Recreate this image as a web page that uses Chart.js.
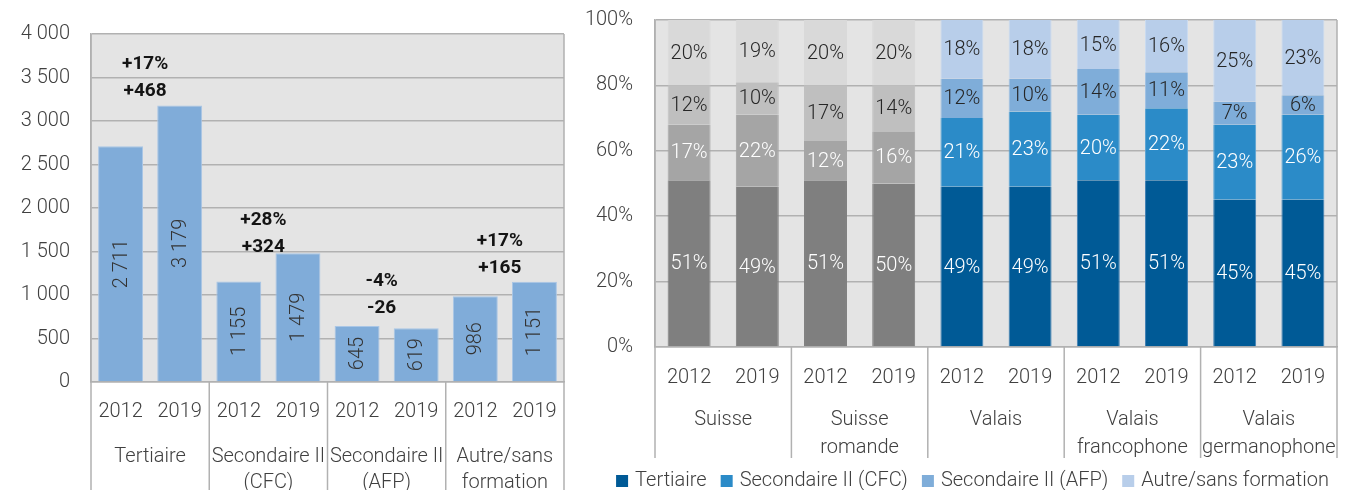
<!DOCTYPE html>
<html><head><meta charset="utf-8">
<script src="https://cdn.jsdelivr.net/npm/chart.js@4.4.0/dist/chart.umd.min.js"></script>
<style>
html,body{margin:0;padding:0;background:#fff;overflow:hidden;}
.box{position:absolute;top:0;height:490px;}
</style></head><body>
<div class="box" style="left:0;width:580px"><canvas id="c1"></canvas></div>
<div class="box" style="left:580px;width:769px"><canvas id="c2"></canvas></div>
<script>
// ---------- DATA ----------
const years = ['2012', '2019'];
const leftGroups = [['Tertiaire'], ['Secondaire II', '(CFC)'], ['Secondaire II', '(AFP)'], ['Autre/sans', 'formation']];
const left2012 = [2711, 1155, 645, 986];
const left2019 = [3179, 1479, 619, 1151];
const leftYMax = 4000;
const leftYStep = 500;

const rightGroups = [['Suisse'], ['Suisse', 'romande'], ['Valais'], ['Valais', 'francophone'], ['Valais', 'germanophone']];
const seriesNames = ['Tertiaire', 'Secondaire II (CFC)', 'Secondaire II (AFP)', 'Autre/sans formation'];
const tertiaire = [51, 49, 51, 50, 49, 49, 51, 51, 45, 45];
const cfc       = [17, 22, 12, 16, 21, 23, 20, 22, 23, 26];
const afp       = [12, 10, 17, 14, 12, 10, 14, 11,  7,  6];
const autre     = [20, 19, 20, 20, 18, 18, 15, 16, 25, 23];

// ---------- STYLE ----------
const FONT = 'Roboto';
const FS = 20;
const TXT = '#404040';
const GRID = '#b1b1b1';
const greys = ['#7f7f7f', '#a5a5a5', '#bfbfbf', '#d9d9d9'];
const blues = ['#005a96', '#2b8bc8', '#7fadd9', '#b8ceea'];
const blueEdges = ['#3f7fb3', '#5aa3d3', '#9fc1e3', '#c9dbf0'];
const segText = ['#ffffff', '#ffffff', '#262626', '#262626'];
const greyBars = 4;

const fmt = n => String(n).replace(/\B(?=(\d{3})+(?!\d))/g, ' ');

Chart.defaults.font.family = FONT;
Chart.defaults.font.weight = 300;
Chart.defaults.animation = false;

const bgPlugin = {
  id: 'bg',
  beforeDraw(chart) {
    const {ctx, chartArea: a} = chart;
    ctx.save();
    ctx.fillStyle = '#e4e4e4';
    ctx.fillRect(a.left, a.top, a.right - a.left, a.bottom - a.top);
    ctx.restore();
  }
};

function groupPlugin(groups, perGroup, sepBottom, firstY, lineH) {
  return {
    id: 'groups',
    afterDraw(chart) {
      const {ctx, chartArea: a, scales: {x}} = chart;
      ctx.save();
      ctx.strokeStyle = GRID;
      ctx.lineWidth = 1.5;
      const n = groups.length;
      for (let g = 0; g <= n; g++) {
        let px, top = a.bottom;
        if (g === 0) { px = a.left; top = a.top; }
        else if (g === n) { px = a.right; top = a.top; }
        else px = (x.getPixelForValue(g * perGroup - 1) + x.getPixelForValue(g * perGroup)) / 2;
        ctx.beginPath(); ctx.moveTo(px, top); ctx.lineTo(px, sepBottom); ctx.stroke();
      }
      ctx.fillStyle = TXT;
      ctx.font = `300 ${FS}px ${FONT}`;
      ctx.textAlign = 'center';
      ctx.textBaseline = 'middle';
      groups.forEach((lines, g) => {
        const cx = (x.getPixelForValue(g * perGroup) + x.getPixelForValue(g * perGroup + perGroup - 1)) / 2;
        lines.forEach((t, i) => ctx.fillText(t, cx, firstY + i * lineH));
      });
      ctx.restore();
    }
  };
}

// ---------- LEFT CHART ----------
const leftLabels = [], leftValues = [];
leftGroups.forEach((g, i) => {
  leftLabels.push(years[0], years[1]);
  leftValues.push(left2012[i], left2019[i]);
});

const leftLabelPlugin = {
  id: 'leftLabels',
  afterDatasetsDraw(chart) {
    const {ctx, scales: {x, y}} = chart;
    const meta = chart.getDatasetMeta(0);
    ctx.save();
    ctx.fillStyle = '#333';
    ctx.font = `300 ${FS}px ${FONT}`;
    ctx.textAlign = 'center';
    ctx.textBaseline = 'middle';
    meta.data.forEach((bar, i) => {
      const cy = (bar.y + bar.base) / 2;
      ctx.save();
      ctx.translate(bar.x, cy);
      ctx.rotate(-Math.PI / 2);
      ctx.fillText(fmt(leftValues[i]), 0, 1);
      ctx.restore();
    });
    // change annotations
    const offs = [14, 6, 18, 14];
    ctx.fillStyle = '#141414';
    ctx.font = `bold 19px ${FONT}`;
    leftGroups.forEach((g, i) => {
      const a = left2012[i], b = left2019[i];
      const d = b - a;
      const pct = Math.round(d / a * 100);
      const sign = v => (v > 0 ? '+' : '') + v;
      const cx = (x.getPixelForValue(2 * i) + x.getPixelForValue(2 * i + 1)) / 2 - 5;
      const top = y.getPixelForValue(Math.max(a, b)) - offs[i];
      ctx.fillText(sign(d), cx, top);
      ctx.fillText(sign(pct) + '%', cx, top - 27);
    });
    ctx.restore();
  }
};

new Chart(document.getElementById('c1'), {
  type: 'bar',
  data: {
    labels: leftLabels,
    datasets: [{
      data: leftValues,
      backgroundColor: '#80acd9',
      borderColor: '#a9c6e6',
      borderWidth: {top: 1, left: 1, right: 1, bottom: 0},
      borderSkipped: 'bottom',
      barPercentage: 0.76,
      categoryPercentage: 1
    }]
  },
  options: {
    responsive: true,
    maintainAspectRatio: false,
    layout: {padding: {top: 34, right: 16, bottom: 0, left: 0}},
    plugins: {legend: {display: false}, tooltip: {enabled: false}},
    scales: {
      x: {
        grid: {display: false, drawTicks: false},
        border: {display: true, color: GRID, width: 1.5},
        ticks: {color: TXT, font: {size: FS, weight: 300}, padding: 18, maxRotation: 0, autoSkip: false},
        afterFit: s => { s.height = 108; }
      },
      y: {
        min: 0, max: leftYMax,
        grid: {color: GRID, lineWidth: 1.5, drawTicks: false},
        border: {display: true, color: GRID, width: 1.5},
        ticks: {stepSize: leftYStep, color: TXT, font: {size: FS, weight: 300}, padding: 21, callback: v => fmt(v)},
        afterFit: s => { s.width = 91; s.paddingTop = 10; s.paddingBottom = 10; }
      }
    }
  },
  plugins: [bgPlugin, leftLabelPlugin, groupPlugin(leftGroups, 2, 490, 457, 26)]
});

// ---------- RIGHT CHART ----------
const rightLabels = [];
rightGroups.forEach(() => rightLabels.push(years[0], years[1]));
const rightSeries = [tertiaire, cfc, afp, autre];

const rightLabelPlugin = {
  id: 'rightLabels',
  afterDatasetsDraw(chart) {
    const {ctx} = chart;
    ctx.save();
    ctx.font = `300 ${FS}px ${FONT}`;
    ctx.textAlign = 'center';
    ctx.textBaseline = 'middle';
    rightSeries.forEach((vals, s) => {
      const meta = chart.getDatasetMeta(s);
      ctx.fillStyle = segText[s];
      meta.data.forEach((bar, i) => {
        ctx.fillText(vals[i] + '%', bar.x, (bar.y + bar.base) / 2 + 1);
      });
    });
    ctx.restore();
  }
};

const legendPlugin = {
  id: 'customLegend',
  afterDraw(chart) {
    const {ctx} = chart;
    const centerX = 392.5, cy = 481, box = 12, gapBox = 7, gapItem = 14;
    ctx.save();
    ctx.font = `300 ${FS}px ${FONT}`;
    ctx.textBaseline = 'middle';
    ctx.textAlign = 'left';
    const widths = seriesNames.map(n => ctx.measureText(n).width);
    const total = widths.reduce((s, w) => s + box + gapBox + w, 0) + gapItem * (seriesNames.length - 1);
    let xx = centerX - total / 2;
    seriesNames.forEach((n, s) => {
      ctx.fillStyle = blues[s];
      ctx.fillRect(xx, cy - box / 2, box, box);
      ctx.fillStyle = TXT;
      ctx.fillText(n, xx + box + gapBox, cy);
      xx += box + gapBox + widths[s] + gapItem;
    });
    ctx.restore();
  }
};

new Chart(document.getElementById('c2'), {
  type: 'bar',
  data: {
    labels: rightLabels,
    datasets: rightSeries.map((vals, s) => ({
      label: seriesNames[s],
      data: vals,
      backgroundColor: vals.map((v, i) => i < greyBars ? greys[s] : blues[s]),
      borderColor: vals.map((v, i) => i < greyBars ? greys[s] : blueEdges[s]),
      borderWidth: {top: 0, left: 1, right: 1, bottom: 0},
      barPercentage: 0.63,
      categoryPercentage: 1
    }))
  },
  options: {
    responsive: true,
    maintainAspectRatio: false,
    layout: {padding: {top: 20, right: 12, bottom: 0, left: 0}},
    plugins: {tooltip: {enabled: false}, legend: {display: false}},
    scales: {
      x: {
        stacked: true,
        grid: {display: false, drawTicks: false},
        border: {display: true, color: GRID, width: 1.5},
        ticks: {color: TXT, font: {size: FS, weight: 300}, padding: 19, maxRotation: 0, autoSkip: false},
        afterFit: s => { s.height = 143; }
      },
      y: {
        stacked: true,
        min: 0, max: 100,
        grid: {color: GRID, lineWidth: 1.5, drawTicks: false},
        border: {display: true, color: GRID, width: 1.5},
        ticks: {stepSize: 20, color: TXT, font: {size: FS, weight: 300}, padding: 22, callback: v => v + '%'},
        afterFit: s => { s.width = 75; s.paddingTop = 10; s.paddingBottom = 10; }
      }
    }
  },
  plugins: [bgPlugin, rightLabelPlugin, groupPlugin(rightGroups, 2, 458, 420, 28), legendPlugin]
});
</script>
</body></html>
